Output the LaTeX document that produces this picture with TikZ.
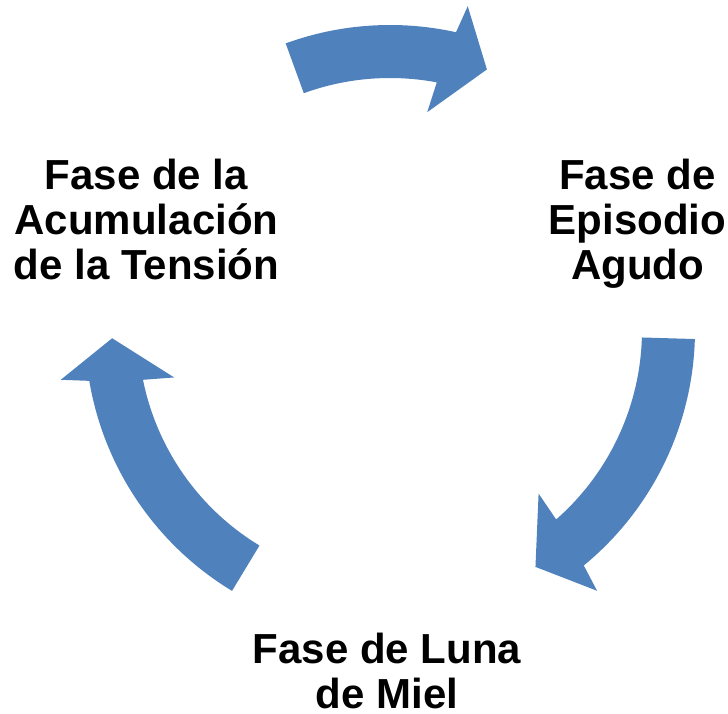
\documentclass[tikz,border=0pt]{standalone}
\usepackage{fontspec}
\setmainfont{Liberation Sans}
\usetikzlibrary{calc}
\definecolor{arrowblue}{HTML}{4F81BD}
\newcommand\cycarrow[2]{% tail angle, arrowhead base angle
  \fill[cyc] ($(c)+(#1:305)$) arc[start angle=#1, end angle={#2-0.9}, radius=305]
    -- ($(c)+({#2-1.9}:333)$) -- ($(c)+({#2-8.8}:278)$) -- ($(c)+({#2+1.9}:221)$)
    -- ($(c)+({#2+0.9}:252)$) arc[start angle={#2+0.9}, end angle=#1, radius=252] -- cycle;
}
\begin{document}
\begin{tikzpicture}[x=1pt,y=1pt,
  lbl/.style={font=\fontsize{42}{45}\selectfont\bfseries, align=center, inner sep=0pt, text=black},
  cyc/.style={fill=arrowblue, draw=none}]
\useasboundingbox (0,0) rectangle (728,713);
\coordinate (c) at (390,383);
\cycarrow{110}{78.4}
\cycarrow{-1.7}{-49.65}
\cycarrow{238.8}{190.5}
\node[lbl, anchor=base] (tension) at (146.5,433) {Fase de la\\Acumulación\\de la Tensión};
\node[lbl, anchor=base] (agudo) at (637.5,433) {Fase de\\Episodio\\Agudo};
\node[lbl, anchor=base] (miel) at (387,5) {Fase de Luna\\de Miel};
\end{tikzpicture}
\end{document}
